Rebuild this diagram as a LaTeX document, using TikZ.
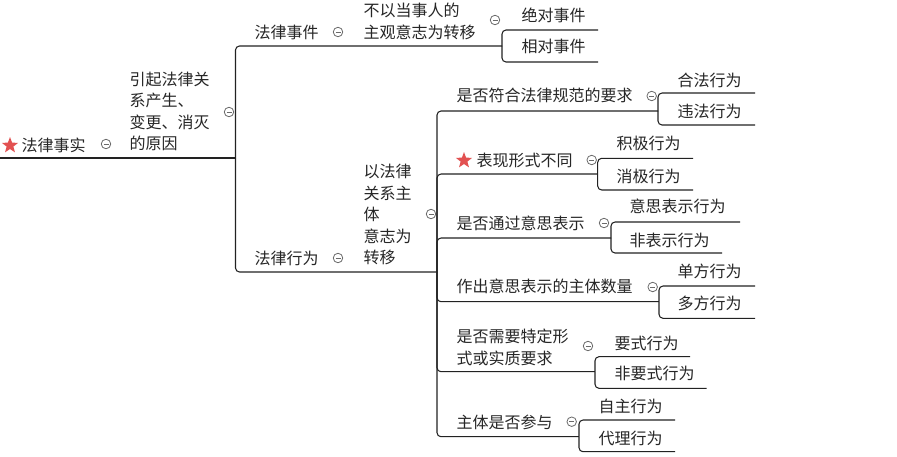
\documentclass[tikz,border=0pt]{standalone}
\usepackage{fontspec}
\setmainfont{Noto Sans CJK SC}
\usetikzlibrary{shapes.geometric}
\definecolor{ln}{HTML}{222222}
\definecolor{tx}{HTML}{262626}
\definecolor{cg}{HTML}{6A6A6A}
\definecolor{sr}{HTML}{E25151}
\tikzset{
  lbl/.style={anchor=west, inner sep=0pt, text=tx, font=\fontsize{16}{21.5}\selectfont, align=left},
  conn/.style={draw=ln, line width=1.05pt, rounded corners=4pt},
  fold/.style={circle, draw=cg, line width=0.8pt, minimum size=9.5pt, inner sep=0pt,
    path picture={\draw[cg, line width=0.8pt] ([xshift=-2.5pt]path picture bounding box.center) -- ([xshift=2.5pt]path picture bounding box.center);}},
  starmark/.style={star, star points=5, star point ratio=2.4, fill=sr, draw=none, minimum size=17pt, inner sep=0pt},
}
\begin{document}
\begin{tikzpicture}[x=1pt,y=-1pt]
\useasboundingbox[fill=white] (0,0) rectangle (897,456);

% ---------- root ----------
\node[starmark] (s0) at (10,145.5) {};
\node[lbl] (root) at (21.5,145) {法律事实};
\node[fold] (f0) at (106,144) {};
\node[lbl] (cause) at (129.5,111.5) {引起法律关\\系产生、\\变更、消灭\\的原因};
\node[fold] (f1) at (229,112) {};

\coordinate (r0) at (0,158);
\coordinate (rj) at (235.5,158);
\draw[conn] (r0) -- (rj);

% ---------- level 2 ----------
\node[lbl] (event) at (254.5,32) {法律事件};
\node[fold] (f2) at (338,32) {};
\node[lbl] (nowill) at (363.5,21.5) {不以当事人的\\主观意志为转移};
\node[fold] (f3) at (495,20) {};

\node[lbl] (act) at (254.5,258) {法律行为};
\node[fold] (f4) at (338,258) {};
\node[lbl] (will) at (363.5,214.5) {以法律\\关系主\\体\\意志为\\转移};
\node[fold] (f5) at (431,214) {};

\coordinate (ej) at (502,46);
\coordinate (bj) at (437,272);
\draw[conn] (rj) |- (ej);
\draw[conn] (rj) |- (bj);

% ---------- event children ----------
\node[lbl] (abs) at (521.5,15) {绝对事件};
\node[lbl] (rel) at (521.5,46.5) {相对事件};
\coordinate (absu) at (598,30);
\coordinate (relu) at (598,62);
\draw[conn] (ej) |- (absu);
\draw[conn] (ej) |- (relu);

% ---------- act classifications ----------
\node[lbl] (c1) at (456.5,95) {是否符合法律规范的要求};
\node[fold] (g1) at (651.7,96) {};
\node[starmark] (s1) at (464,160.5) {};
\node[lbl] (c2) at (476.5,160) {表现形式不同};
\node[fold] (g2) at (591.7,160) {};
\node[lbl] (c3) at (456.5,223) {是否通过意思表示};
\node[fold] (g3) at (604,223) {};
\node[lbl] (c4) at (456.5,286.7) {作出意思表示的主体数量};
\node[fold] (g4) at (652.7,287) {};
\node[lbl] (c5) at (456.5,347.5) {是否需要特定形\\式或实质要求};
\node[fold] (g5) at (588,346) {};
\node[lbl] (c6) at (456.5,422.7) {主体是否参与};
\node[fold] (g6) at (571.7,421.7) {};

\coordinate (ja) at (658,111);
\coordinate (jb) at (597.7,174);
\coordinate (jc) at (611,238);
\coordinate (jd) at (659,301.7);
\coordinate (je) at (595,371.7);
\coordinate (jf) at (579,436.7);
\foreach \j in {ja,jb,jc,jd,je,jf} { \draw[conn] (bj) |- (\j); }

% ---------- leaves ----------
\node[lbl] (l1a) at (677.5,80.7) {合法行为};
\node[lbl] (l1b) at (677.5,111.7) {违法行为};
\coordinate (u1a) at (755,93);
\coordinate (u1b) at (755,125);
\draw[conn] (ja) |- (u1a);
\draw[conn] (ja) |- (u1b);

\node[lbl] (l2a) at (616.5,143) {积极行为};
\node[lbl] (l2b) at (616.5,176) {消极行为};
\coordinate (u2a) at (693,158.3);
\coordinate (u2b) at (693,190);
\draw[conn] (jb) |- (u2a);
\draw[conn] (jb) |- (u2b);

\node[lbl] (l3a) at (629.5,206.7) {意思表示行为};
\node[lbl] (l3b) at (629.5,240) {非表示行为};
\coordinate (u3a) at (740,222);
\coordinate (u3b) at (722,253);
\draw[conn] (jc) |- (u3a);
\draw[conn] (jc) |- (u3b);

\node[lbl] (l4a) at (677.5,271.7) {单方行为};
\node[lbl] (l4b) at (677.5,303) {多方行为};
\coordinate (u4a) at (755,286);
\coordinate (u4b) at (755,318.3);
\draw[conn] (jd) |- (u4a);
\draw[conn] (jd) |- (u4b);

\node[lbl] (l5a) at (614.5,343) {要式行为};
\node[lbl] (l5b) at (614.5,373) {非要式行为};
\coordinate (u5a) at (690,356.7);
\coordinate (u5b) at (706.7,388.3);
\draw[conn] (je) |- (u5a);
\draw[conn] (je) |- (u5b);

\node[lbl] (l6a) at (598.5,406.7) {自主行为};
\node[lbl] (l6b) at (598.5,438.3) {代理行为};
\coordinate (u6a) at (675,420);
\coordinate (u6b) at (675,451.7);
\draw[conn] (jf) |- (u6a);
\draw[conn] (jf) |- (u6b);
\end{tikzpicture}
\end{document}
